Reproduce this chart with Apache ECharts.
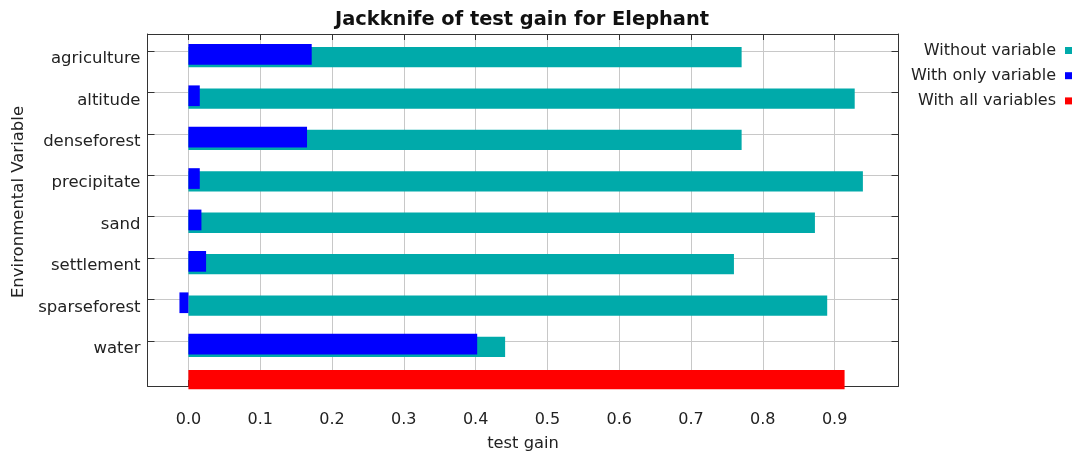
<!DOCTYPE html>
<html>
<head>
<meta charset="utf-8">
<script src="https://cdn.jsdelivr.net/npm/echarts@6/dist/echarts.min.js"></script>
<style>
  html, body { margin: 0; padding: 0; background: #ffffff; }
  #chart { width: 1079px; height: 457px; }
</style>
</head>
<body>
<div id="chart"></div>
<script>
// Environmental variables, top to bottom
const variables = ['agriculture', 'altitude', 'denseforest', 'precipitate', 'sand', 'settlement', 'sparseforest', 'water'];
// Test gain when each variable is left out
const withoutVariable = [0.7705, 0.928, 0.7705, 0.9394, 0.8726, 0.7598, 0.8897, 0.4411];
// Test gain of a model built from that variable alone
const withOnlyVariable = [0.1717, 0.0158, 0.1652, 0.0158, 0.0181, 0.0246, -0.0125, 0.4022];
// Test gain of the full model
const withAllVariables = [0.9139];
const seriesNames = ['Without variable', 'With only variable', 'With all variables'];
// Gain axis range
const gainMin = -0.057;
const gainMax = 0.989;

const FONT = 'DejaVu Sans';
const TEXT = '#222222';
const FRAME = '#333333';
const GRID_LINE = '#c8c8c8';
const COLORS = ['#00aaaa', '#0000ff', '#ff0000'];

const PLOT_LEFT = 147.5;
const PLOT_WIDTH = 751;

// Horizontal bar drawn from zero to the value, shifted against the row tick
function rowBar(offsetTop, thickness) {
  return function (params, api) {
    const row = api.value(1);
    const start = api.coord([0, row]);
    const end = api.coord([api.value(0), row]);
    return {
      type: 'rect',
      shape: {
        x: Math.min(start[0], end[0]),
        y: start[1] + offsetTop,
        width: Math.abs(end[0] - start[0]),
        height: thickness
      },
      style: { fill: api.visual('color') }
    };
  };
}

function gainAxis(gridIndex, extra) {
  return Object.assign({
    type: 'value',
    gridIndex: gridIndex,
    min: gainMin,
    max: gainMax,
    splitNumber: 10,
    axisLine: { show: false, onZero: false },
    axisTick: { show: false },
    axisLabel: { show: false },
    splitLine: { show: false }
  }, extra || {});
}

const frameLine = { show: true, onZero: false, lineStyle: { color: FRAME, width: 1 } };

const chart = echarts.init(document.getElementById('chart'), null, { renderer: 'canvas' });

chart.setOption({
  animation: false,
  backgroundColor: '#ffffff',
  title: {
    text: 'Jackknife of test gain for Elephant',
    left: 335,
    top: 10,
    padding: 0,
    textStyle: { fontFamily: FONT, fontWeight: 'bold', fontSize: 19.4, color: '#111111' }
  },
  legend: {
    data: seriesNames,
    orient: 'vertical',
    right: 7,
    top: 41.5,
    padding: 0,
    align: 'right',
    icon: 'rect',
    itemWidth: 7,
    itemHeight: 7,
    itemGap: 7.2,
    selectedMode: false,
    textStyle: { fontFamily: FONT, fontSize: 16, color: TEXT, lineHeight: 18, padding: [0, 4, 0, 0] }
  },
  grid: [
    // frame, gain axis and vertical grid lines
    { left: PLOT_LEFT, top: 34, width: PLOT_WIDTH, height: 362.7 },
    // one row per variable
    { left: PLOT_LEFT, top: 51, width: PLOT_WIDTH, height: 289.8 },
    // full-model bar
    { left: PLOT_LEFT, top: 370, width: PLOT_WIDTH, height: 19.3 }
  ],
  xAxis: [
    gainAxis(0, {
      position: 'bottom',
      name: 'test gain',
      nameLocation: 'middle',
      nameGap: 50,
      nameTextStyle: { fontFamily: FONT, fontSize: 16.3, color: TEXT },
      axisLine: frameLine,
      axisTick: { show: true, inside: true, length: 6, lineStyle: { color: FRAME } },
      axisLabel: {
        show: true, margin: 26, showMinLabel: false, showMaxLabel: false,
        fontFamily: FONT, fontSize: 16, color: TEXT,
        formatter: function (v) { return v.toFixed(1); }
      },
      splitLine: { show: true, lineStyle: { color: GRID_LINE, width: 1 } }
    }),
    gainAxis(0, {
      position: 'top',
      axisLine: frameLine,
      axisTick: { show: true, inside: true, length: 6, lineStyle: { color: FRAME } }
    }),
    gainAxis(1),
    gainAxis(2)
  ],
  yAxis: [
    {
      type: 'value', gridIndex: 0, position: 'left', min: 0, max: 1,
      name: 'Environmental Variable',
      nameLocation: 'middle',
      nameGap: 120,
      nameTextStyle: { fontFamily: FONT, fontSize: 16.5, color: TEXT, padding: [0, 0, 0, 16] },
      axisLine: frameLine,
      axisTick: { show: false }, axisLabel: { show: false }, splitLine: { show: false }
    },
    {
      type: 'value', gridIndex: 0, position: 'right', min: 0, max: 1,
      axisLine: frameLine,
      axisTick: { show: false }, axisLabel: { show: false }, splitLine: { show: false }
    },
    {
      type: 'category', gridIndex: 1, position: 'left', data: variables,
      inverse: true, boundaryGap: false,
      axisLine: { show: false, onZero: false },
      axisTick: { show: true, inside: true, length: 7, interval: 0, lineStyle: { color: FRAME } },
      axisLabel: {
        interval: 0, margin: 7, fontFamily: FONT, fontSize: 16.5, color: TEXT,
        verticalAlign: 'top', lineHeight: 16
      },
      splitLine: { show: true, interval: 0, lineStyle: { color: GRID_LINE, width: 1 } }
    },
    {
      type: 'category', gridIndex: 1, position: 'right', data: variables,
      inverse: true, boundaryGap: false,
      axisLine: { show: false, onZero: false },
      axisTick: { show: true, inside: true, length: 7, interval: 0, lineStyle: { color: FRAME } },
      axisLabel: { show: false },
      splitLine: { show: false }
    },
    {
      type: 'category', gridIndex: 2, data: [''],
      show: false
    }
  ],
  series: [
    {
      name: seriesNames[0],
      type: 'custom',
      xAxisIndex: 2, yAxisIndex: 2,
      clip: false,
      z: 2,
      itemStyle: { color: COLORS[0] },
      encode: { x: 0, y: 1 },
      renderItem: rowBar(-4, 20.3),
      data: withoutVariable.map(function (v, i) { return [v, variables[i]]; })
    },
    {
      name: seriesNames[1],
      type: 'custom',
      xAxisIndex: 2, yAxisIndex: 2,
      clip: false,
      z: 3,
      itemStyle: { color: COLORS[1] },
      encode: { x: 0, y: 1 },
      renderItem: rowBar(-7, 20.7),
      data: withOnlyVariable.map(function (v, i) { return [v, variables[i]]; })
    },
    {
      name: seriesNames[2],
      type: 'bar',
      xAxisIndex: 3, yAxisIndex: 4,
      barWidth: '100%',
      itemStyle: { color: COLORS[2] },
      data: withAllVariables
    }
  ]
});
</script>
</body>
</html>
